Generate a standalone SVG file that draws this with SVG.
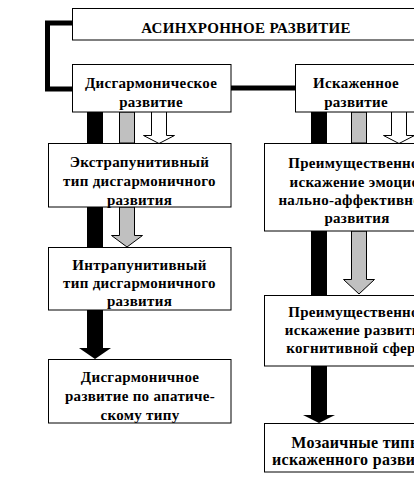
<svg xmlns="http://www.w3.org/2000/svg" width="414" height="478" viewBox="0 0 414 478">
<style>
.box{fill:#fff;stroke:#000;stroke-width:1}
.t{font-family:"Liberation Serif","Times New Roman","DejaVu Serif",serif;font-weight:bold;font-size:15px;letter-spacing:0.3px;fill:#000;text-anchor:middle}
.blk{fill:#000}
.gry{fill:#c0c0c0;stroke:#000;stroke-width:1}
.wht{fill:#fff;stroke:#000;stroke-width:1}
.lnk{fill:none;stroke:#000;stroke-width:5}
</style>
<rect width="414" height="478" fill="#fff"/>
<g id="connectors">
<path class="lnk" d="M72,23 H47.5 V89 H72"/>
<path class="lnk" d="M231,88 H295"/>
<rect class="blk" x="87" y="112" width="16" height="32"/>
<rect class="gry" x="119.5" y="112" width="15" height="31"/>
<path class="wht" d="M151.5,112 V135.5 H143.5 L159,143.5 L174.5,135.5 H166.5 V112"/>
<rect class="blk" x="311" y="112" width="16" height="32"/>
<rect class="gry" x="351.5" y="112" width="15" height="31"/>
<path class="wht" d="M391.5,112 V135.5 H383.5 L399,143.5 L414.5,135.5 H406.5 V112"/>
<rect class="blk" x="87" y="207" width="16" height="40"/>
<path class="gry" d="M119.5,207 V235.5 H111.5 L127,247 L142.5,235.5 H134.5 V207Z"/>
<path class="blk" d="M87,310 V348 H79 L95,359 L111,348 H103 V310Z"/>
<rect class="blk" x="311" y="231" width="16" height="64"/>
<path class="gry" d="M351.5,231 V279.5 H343.5 L359,294 L374.5,279.5 H366.5 V231Z"/>
<path class="blk" d="M311,366 V415 H303 L319,423 L335,415 H327 V366Z"/>
</g>
<g id="n-root">
<rect class="box" x="72.5" y="8.5" width="360" height="31.5"/>
<text class="t" x="246" y="33">АСИНХРОННОЕ РАЗВИТИЕ</text>
</g>
<g id="n-dis">
<rect class="box" x="72.5" y="64.5" width="158.5" height="47.5"/>
<text class="t" x="151" y="88">Дисгармоническое</text>
<text class="t" x="151" y="107">развитие</text>
</g>
<g id="n-isk">
<rect class="box" x="295.5" y="64.5" width="130" height="47.5"/>
<text class="t" x="356" y="88">Искаженное</text>
<text class="t" x="356" y="107">развитие</text>
</g>
<g id="n-extra">
<rect class="box" x="48.5" y="143.5" width="182.5" height="63.5"/>
<text class="t" x="139.5" y="167">Экстрапунитивный</text>
<text class="t" x="139.5" y="186">тип дисгармоничного</text>
<text class="t" x="139.5" y="205">развития</text>
</g>
<g id="n-intra">
<rect class="box" x="48.5" y="247.5" width="182.5" height="62.5"/>
<text class="t" x="139.5" y="270">Интрапунитивный</text>
<text class="t" x="139.5" y="288">тип дисгармоничного</text>
<text class="t" x="139.5" y="306">развития</text>
</g>
<g id="n-apat">
<rect class="box" x="48.5" y="359.5" width="182.5" height="63.5"/>
<text class="t" x="140" y="382">Дисгармоничное</text>
<text class="t" x="140" y="401">развитие по апатиче-</text>
<text class="t" x="140" y="420">скому типу</text>
</g>
<g id="n-emo">
<rect class="box" x="264.5" y="143.5" width="186" height="87.5"/>
<text class="t" x="357" y="168">Преимущественное</text>
<text class="t" x="357" y="187">искажение эмоцио-</text>
<text class="t" x="357" y="205">нально-аффективного</text>
<text class="t" x="357" y="223">развития</text>
</g>
<g id="n-cog">
<rect class="box" x="264.5" y="295.5" width="186" height="70.5"/>
<text class="t" x="357" y="317">Преимущественное</text>
<text class="t" x="357" y="335">искажение развития</text>
<text class="t" x="357" y="353">когнитивной сферы</text>
</g>
<g id="n-mos">
<rect class="box" x="264.5" y="423.5" width="186" height="48.5"/>
<text class="t" x="357" y="448" style="font-size:16px">Мозаичные типы</text>
<text class="t" x="357" y="465" style="font-size:16px">искаженного развития</text>
</g>
</svg>
